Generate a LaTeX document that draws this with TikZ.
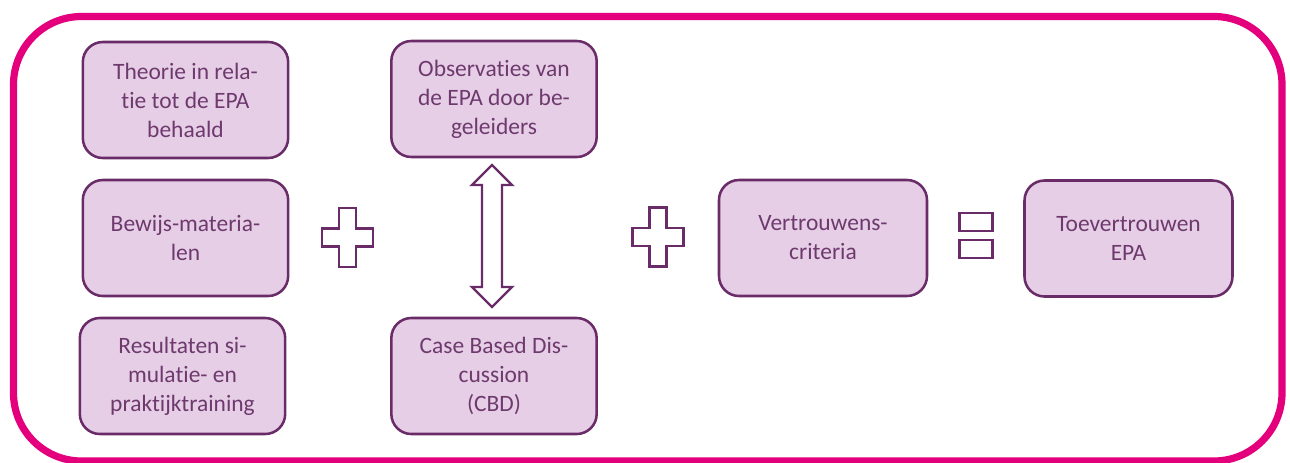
\documentclass[tikz,border=0pt]{standalone}
\usepackage{fontspec}
\setmainfont{Carlito}[Ligatures=NoCommon]
\definecolor{framepink}{HTML}{E4007C}
\definecolor{boxfill}{HTML}{E6CEE6}
\definecolor{boxdraw}{HTML}{6A2C68}
\definecolor{txtpurple}{HTML}{6E3A6E}
\newcommand{\tinolig}{t\kern0pt i}
\tikzset{
  stepbox/.style={draw=boxdraw, fill=boxfill, line width=1.9pt, rounded corners=15pt,
    minimum width=154pt, minimum height=87pt, text=txtpurple, align=center,
    inner sep=0pt, font=\fontsize{17.6}{21.75}\selectfont},
  symb/.style={draw=boxdraw, fill=white, line width=1.8pt, line join=miter},
}
\newcommand{\plussign}[2]{%
  \draw[symb] (#1-8.5,#2-29.5) -- (#1+8.5,#2-29.5) -- (#1+8.5,#2-9) -- (#1+25.5,#2-9)
    -- (#1+25.5,#2+9) -- (#1+8.5,#2+9) -- (#1+8.5,#2+29.5) -- (#1-8.5,#2+29.5)
    -- (#1-8.5,#2+9) -- (#1-25.5,#2+9) -- (#1-25.5,#2-9) -- (#1-8.5,#2-9) -- cycle;}
\begin{document}
\begin{tikzpicture}[x=0.75pt,y=-0.75pt]
\useasboundingbox (0,0) rectangle (1290,462);
\draw[framepink, line width=5.4pt, rounded corners=51pt] (13.5,16.5) rectangle (1282,461);

\node[stepbox] (theorie) at (185.5,100) {Theorie in rela-\\\tinolig e tot de EPA\\behaald};
\node[stepbox] (bewijs) at (185.5,238) {Bewijs-materia-\\len};
\node[stepbox] (result) at (182.5,376) {Resultaten si-\\mula\tinolig e- en\\praktijktraining};
\node[stepbox] (obs) at (494,99) {Observa\tinolig es van\\de EPA door be-\\geleiders};
\node[stepbox] (cbd) at (494,376) {Case Based Dis-\\cussion\\(CBD)};
\node[stepbox, minimum width=156pt] (vert) at (823,238) {Vertrouwens-\\criteria};
\node[stepbox, minimum width=156pt] (toev) at (1128.5,238.5) {Toevertrouwen\\EPA};

\plussign{347.5}{237.5}
\plussign{658}{237}

\draw[symb] (959.5,213) rectangle (992.5,231);
\draw[symb] (959.5,240) rectangle (992.5,258);

\draw[symb] (492,165) -- (512,185) -- (502,185) -- (502,287) -- (512,287) -- (492,307)
  -- (472,287) -- (482,287) -- (482,185) -- (472,185) -- cycle;
\end{tikzpicture}
\end{document}
